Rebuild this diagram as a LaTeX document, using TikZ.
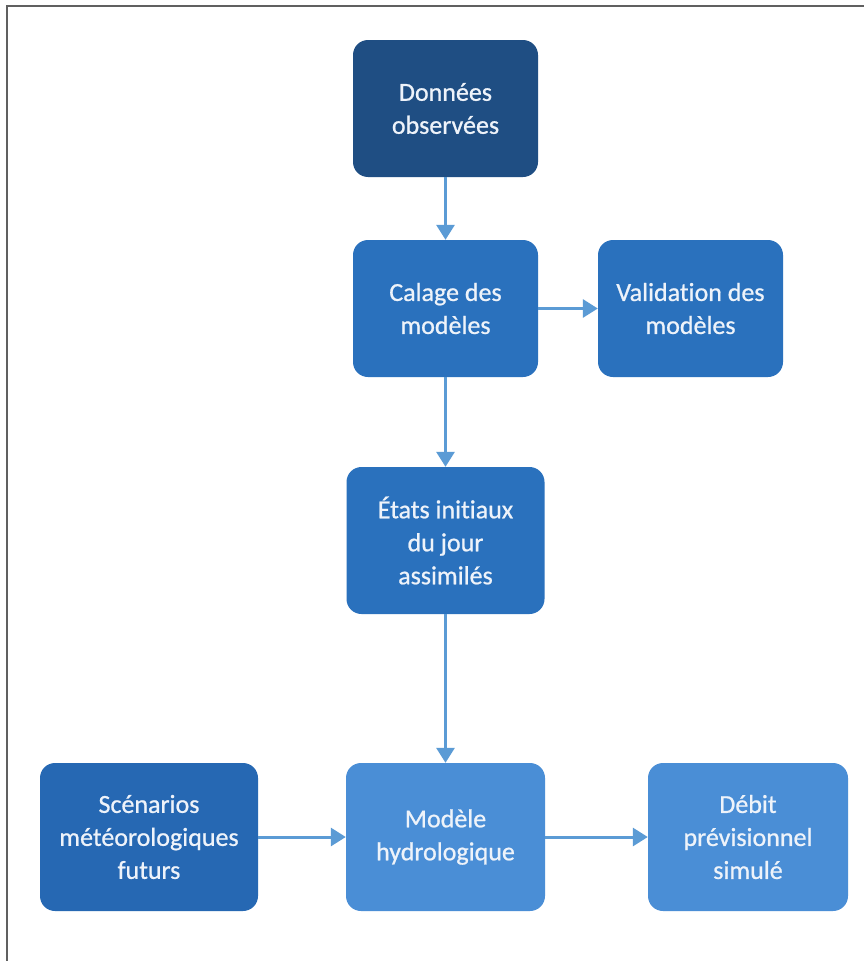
\documentclass[tikz,border=0pt]{standalone}
\usepackage{fontspec}
\setmainfont{Carlito}[Ligatures=NoCommon,FakeBold=0.8]
\usetikzlibrary{arrows.meta}
\definecolor{darkbox}{HTML}{1F4E83}
\definecolor{midbox}{HTML}{2A71BD}
\definecolor{scebox}{HTML}{2668B3}
\definecolor{lightbox}{HTML}{4A8ED6}
\definecolor{arrowc}{HTML}{5B9BD5}
\definecolor{framec}{HTML}{606060}
\definecolor{txt}{HTML}{EEF3FA}
\tikzset{
  box/.style={rounded corners=15pt, minimum width=#1, align=center, text=txt,
    font=\fontsize{26}{33}\selectfont, inner sep=0pt},
  conn/.style={draw=arrowc, line width=3pt, -{Triangle[length=15pt,width=18pt]}}
}
\begin{document}
\begin{tikzpicture}[x=1pt,y=-1pt]
\fill[white] (0,0) rectangle (864,961);
\useasboundingbox (0,0) rectangle (864,961);
\draw[framec, line width=2pt] (6.5,961) -- (6.5,5.5) -- (864,5.5);
\node[box=185pt, minimum height=137pt, fill=darkbox] (don) at (445.5,108.5) {Données\\observées};
\node[box=185pt, minimum height=137pt, fill=midbox] (cal) at (445.5,308.5) {Calage des\\modèles};
\node[box=185pt, minimum height=137pt, fill=midbox] (val) at (690.5,308.5) {Validation des\\modèles};
\node[box=198pt, minimum height=147pt, fill=midbox] (eta) at (445.5,540.5) {États initiaux\\du jour\\assimilés};
\node[box=218pt, minimum height=148pt, fill=scebox] (sce) at (149,837) {Scénarios\\météorologiques\\futurs};
\node[box=199pt, minimum height=148pt, fill=lightbox] (mod) at (445.5,837) {Modèle\\hydrologique};
\node[box=200pt, minimum height=148pt, fill=lightbox] (deb) at (748,837) {Débit\\prévisionnel\\simulé};
\draw[conn] (don) -- (cal);
\draw[conn] (cal) -- (val);
\draw[conn] (cal) -- (eta);
\draw[conn] (eta) -- (mod);
\draw[conn] (sce) -- (mod);
\draw[conn] (mod) -- (deb);
\end{tikzpicture}
\end{document}
